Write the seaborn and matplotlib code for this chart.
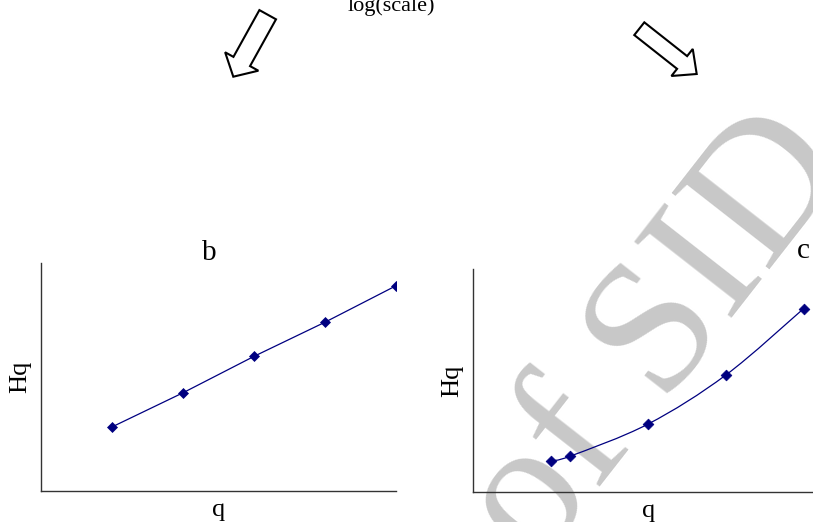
import numpy as np
import pandas as pd
import seaborn as sns
import matplotlib.pyplot as plt
from matplotlib.path import Path
from matplotlib.patches import PathPatch, FancyArrow

# Generalised Hurst exponent Hq against moment order q
q_b = [1, 2, 3, 4, 5]
hq_b = [2.8, 4.3, 5.9, 7.4, 9.0]

q_c = [1, 1.25, 2.25, 3.25, 4.25]
hq_c = [1.39, 1.60, 3.04, 5.24, 8.22]

panel_titles = ["b", "c"]
top_label = "log(scale)"
watermark = "of SID"

sns.set_style("white")
plt.rcParams["font.family"] = ["Liberation Serif", "DejaVu Serif"]
plt.rcParams["text.color"] = "black"
plt.rcParams["axes.labelcolor"] = "black"

W, H = 813, 522
fig = plt.figure(figsize=(W / 100, H / 100), dpi=100)

line_color = "#000080"
spine_color = "#333333"


def px_axes(left, top, right, bottom):
    return fig.add_axes([left / W, 1 - bottom / H, (right - left) / W, (bottom - top) / H])


def style_axes(ax):
    ax.set_facecolor("none")
    for side in ("top", "right"):
        ax.spines[side].set_visible(False)
    for side in ("left", "bottom"):
        ax.spines[side].set_color(spine_color)
        ax.spines[side].set_linewidth(1.0)
    ax.set_xticks([])
    ax.set_yticks([])
    ax.set_xlabel("q", fontsize=19, labelpad=6)
    ax.set_ylabel("Hq", fontsize=19, labelpad=7)


def smooth_path(xs, ys):
    # Catmull-Rom spline through the points, expressed as cubic Bezier segments
    pts = np.column_stack([xs, ys]).astype(float)
    ext = np.vstack([pts[0], pts, pts[-1]])
    verts = [pts[0]]
    codes = [Path.MOVETO]
    for i in range(1, len(ext) - 2):
        p0, p1, p2, p3 = ext[i - 1], ext[i], ext[i + 1], ext[i + 2]
        c1 = p1 + (p2 - p0) / 6.0
        c2 = p2 - (p3 - p1) / 6.0
        verts += [c1, c2, p2]
        codes += [Path.CURVE4] * 3
    return Path(verts, codes)


# Watermark behind everything
fig.text(658 / W, 1 - 338 / H, watermark, fontsize=136, color="#c8c8c8",
         rotation=52, rotation_mode="anchor", ha="center", va="center", zorder=-5)

# Panel b: straight-line relation
ax_b = px_axes(41, 263, 396, 490.7)
df_b = pd.DataFrame({"q": q_b, "Hq": hq_b})
sns.lineplot(data=df_b, x="q", y="Hq", ax=ax_b, color=line_color, linewidth=0.9,
             marker="D", markersize=4.6, markeredgecolor=line_color, markeredgewidth=0.5)
ax_b.set_xlim(0, 5)
ax_b.set_ylim(0, 10)
style_axes(ax_b)
ax_b.set_title(panel_titles[0], fontsize=21, x=0.473, pad=2)

# Panel c: curved relation
ax_c = px_axes(473.3, 269, 823, 491.7)
df_c = pd.DataFrame({"q": q_c, "Hq": hq_c})
ax_c.add_patch(PathPatch(smooth_path(df_c["q"], df_c["Hq"]), facecolor="none",
                         edgecolor=line_color, linewidth=0.9))
sns.scatterplot(data=df_c, x="q", y="Hq", ax=ax_c, color=line_color, marker="D",
                s=30, edgecolor=line_color, linewidth=0.5, zorder=3)
ax_c.set_xlim(0, 4.5)
ax_c.set_ylim(0, 10)
style_axes(ax_c)
ax_c.set_title(panel_titles[1], fontsize=21, x=0.943, pad=8)

# Top annotation with block arrows
overlay = fig.add_axes([0, 0, 1, 1], zorder=5)
overlay.set_xlim(0, W)
overlay.set_ylim(H, 0)
overlay.axis("off")
overlay.set_facecolor("none")
overlay.text(391.7, 11, top_label, fontsize=16, ha="center", va="baseline")
overlay.add_patch(FancyArrow(267.7, 14.7, -34.4, 62, width=19, head_width=38,
                             head_length=17.4, length_includes_head=True,
                             facecolor="white", edgecolor="black", linewidth=1.5))
overlay.add_patch(FancyArrow(639.3, 28.7, 57.4, 45.3, width=16.2, head_width=34.4,
                             head_length=18.6, length_includes_head=True,
                             facecolor="white", edgecolor="black", linewidth=1.5))

fig.savefig("out.png", dpi=100)
